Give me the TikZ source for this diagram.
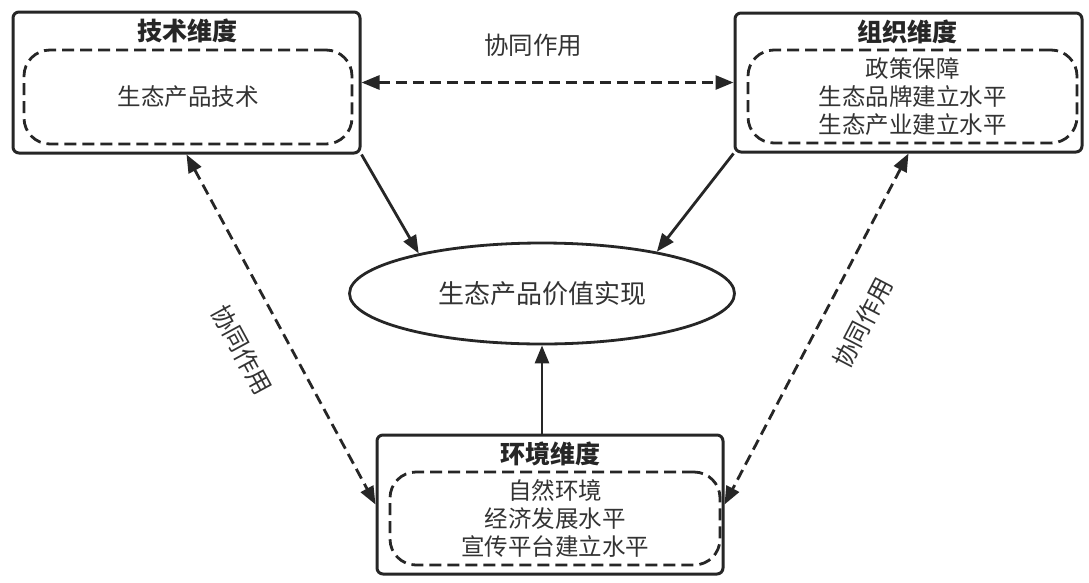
\documentclass[tikz,border=0pt]{standalone}
\usepackage{fontspec}
\setmainfont{Noto Sans CJK SC}
\usetikzlibrary{arrows.meta,shapes.geometric}
\begin{document}
\begin{tikzpicture}[x=1pt,y=-1pt,
  outerbox/.style={draw=black!85,line width=3pt,rounded corners=6pt,minimum width=347pt,minimum height=140pt,inner sep=0pt},
  innerbox/.style={draw=black!85,line width=2.8pt,dash pattern=on 12pt off 6pt,rounded corners=26pt,minimum width=329pt,minimum height=93pt,align=center,inner sep=0pt,font=\fontsize{23.5}{28}\selectfont,text=black!80},
  titletext/.style={font=\fontsize{25}{30}\selectfont\bfseries,text=black!85},
  labeltext/.style={font=\fontsize{24.5}{30}\selectfont,text=black!80},
  solidarrow/.style={draw=black!85,line width=2.8pt,-{Triangle[length=18pt,width=14pt]}},
  dasharrow/.style={draw=black!85,line width=2.8pt,dash pattern=on 11pt off 6pt,{Triangle[length=18pt,width=14pt]}-{Triangle[length=18pt,width=14pt]}}
]
\useasboundingbox (0,0) rectangle (1089,582);
\fill[white] (0,0) rectangle (1089,582);

% outer boxes
\node[outerbox,minimum height=141pt] (tech) at (186.5,82.5) {};
\node[outerbox,minimum height=139pt] (org) at (908.5,82.5) {};
\node[outerbox,minimum width=346pt,minimum height=139pt] (env) at (550,504.5) {};

% titles
\node[titletext] (techt) at (187,31) {技术维度};
\node[titletext] (orgt) at (907,32) {组织维度};
\node[titletext] (envt) at (550,454) {环境维度};

% inner dashed boxes
\node[innerbox,minimum width=328pt,minimum height=94pt] (techi) at (188,97) {生态产品技术};
\node[innerbox] (orgi) at (912.5,96.5) {政策保障\\生态品牌建立水平\\生态产业建立水平};
\node[innerbox,minimum width=330pt] (envi) at (555,518.5) {自然环境\\经济发展水平\\宣传平台建立水平};

% ellipse
\node[ellipse,draw=black!85,line width=2.8pt,minimum width=385pt,minimum height=101pt,inner sep=0pt,font=\fontsize{26}{30}\selectfont,text=black!80] (ell) at (542,293.5) {生态产品价值实现};

% solid arrows
\draw[solidarrow] (tech.south east) -- (ell.162);
\draw[solidarrow] (org.south west) -- (ell.20);
\draw[solidarrow] (env.north -| ell.south) -- (ell.south);

% dashed double arrows
\draw[dasharrow] (tech.east) -- (org.west);
\draw[dasharrow] (tech.south) -- (env.west);
\draw[dasharrow] (org.south) -- (env.east);

% labels
\node[labeltext] (lab1) at (533,45) {协同作用};
\node[labeltext,rotate=-61.5] (lab2) at (242,350) {协同作用};
\node[labeltext,rotate=62.5] (lab3) at (863,323) {协同作用};
\end{tikzpicture}
\end{document}
